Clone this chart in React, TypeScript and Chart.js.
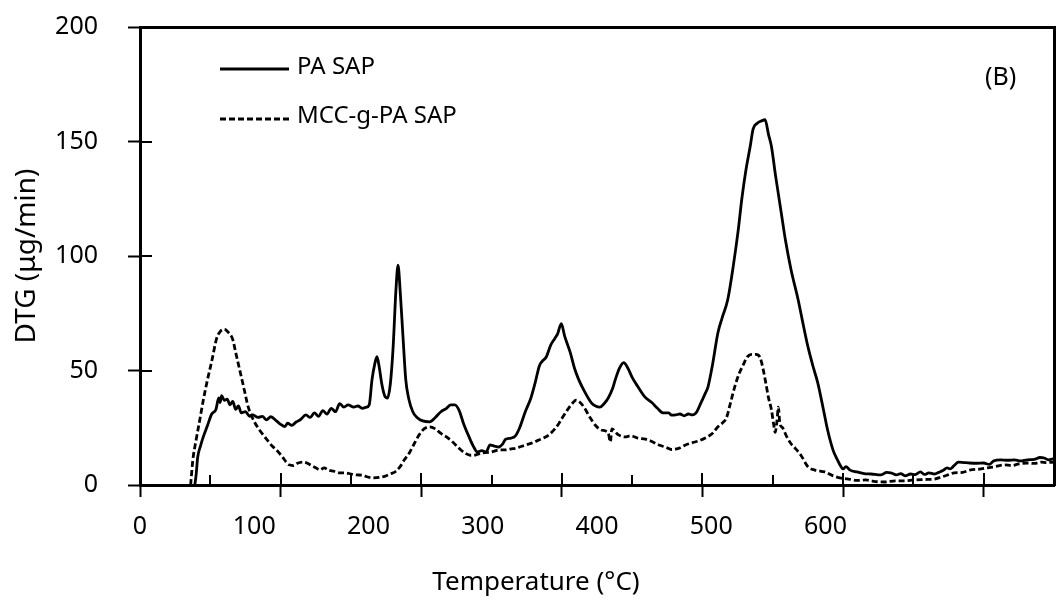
import React, { useEffect, useRef } from 'react';
import { Chart, registerables } from 'chart.js';

Chart.register(...registerables);

// ---- Data ----
const paTemp = [
  39, 40, 41, 43, 45, 48, 51, 54, 56, 57, 58, 60, 62, 64, 66, 68, 70, 72, 75, 78,
  80, 84, 87, 90, 93, 97, 100, 103, 105, 108, 111, 114, 118, 121, 124, 127, 130, 133, 136, 139,
  142, 145, 148, 152, 155, 158, 161, 163, 165, 167, 168.5, 170, 172, 174, 176, 178, 180, 182, 183.5, 185,
  187, 189, 191, 194, 197, 201, 206, 210, 214, 218, 221, 224, 227, 230, 234, 237, 240, 243, 246, 249,
  252, 255, 258, 260, 264, 267, 270, 274, 278, 281, 284, 286, 289, 292, 295, 297, 299.6, 302, 306, 309,
  312, 316, 321, 324, 327, 330, 333, 336, 338, 341, 344, 347, 350, 354, 359, 364, 368, 372, 376, 378,
  381, 384, 387, 390, 393, 396, 399, 402, 404, 407, 411, 414, 418, 422, 425.5, 428, 431, 434, 436, 439,
  442, 444.5, 447, 449, 452, 456, 459, 463, 468, 471, 475, 479, 482, 486, 489, 493, 496, 498, 500, 502,
  505, 510, 515, 520, 527, 531, 534, 538, 541, 544, 548, 551, 555, 558, 561, 565, 568, 571, 574, 576,
  579, 582, 586, 590, 595, 600, 604, 607, 612, 617, 622, 626, 631, 636, 640, 643, 646, 650,
];
const paDtg = [
  0, 5, 12, 17, 21, 26, 31, 33, 38, 36, 39, 37, 37.5, 35, 36.5, 33, 34.5, 31.5, 32, 30,
  30.6, 29.5, 30, 28.5, 29.8, 28, 26.5, 25.5, 27, 26, 27.5, 28.5, 30.6, 29.5, 31.5, 30, 32.5, 31, 33.5, 32,
  35.5, 34, 35, 34, 34.5, 33.5, 34, 35, 46, 53, 56, 52, 44, 39, 38, 44, 60, 85, 96, 85,
  65, 46, 38, 32, 29.5, 28, 27.6, 29.5, 32, 33.5, 35, 35, 32.5, 27, 21, 17, 14.4, 15, 14.4, 17.5,
  17, 16.6, 18, 20, 20.5, 21.5, 25, 32, 38, 44.6, 52, 54, 56, 61, 64, 66, 70.5, 65, 57.8, 51,
  46, 41, 35.9, 34.5, 34, 35.5, 38, 42, 46, 51, 53.4, 51, 47, 43, 38.5, 36, 33.5, 31.5, 31.5, 30.5,
  30.6, 31, 30.2, 31, 30.6, 32, 36, 40, 43, 52, 66.5, 73, 81, 96, 111.6, 125, 137.9, 148, 155.4, 158,
  159, 159.5, 153, 148, 135, 119, 107, 94, 81, 72, 60.4, 51, 44.6, 33, 24, 15, 11, 8.5, 7, 8,
  6.5, 5.7, 5, 4.8, 4.4, 5.5, 5.3, 4.4, 5, 4, 4.8, 4.5, 5.7, 4.6, 5.3, 4.8, 5.5, 6.3, 7.5, 7,
  8.5, 10, 9.8, 9.6, 9.5, 9.6, 9, 10.5, 11, 10.8, 11, 10.5, 11, 11.2, 12, 11.8, 11, 11.5,
];

const mccTemp = [
  36, 37.6, 40, 42.5, 45, 48, 51, 54.5, 57, 60, 63, 66, 68, 71, 74, 77, 81, 85, 90, 94,
  97, 101, 104, 106, 109, 112, 116, 119, 122, 125, 128, 131, 134, 138, 142, 146, 150, 154, 158, 162,
  165, 170, 174, 178, 182, 185, 188, 191.5, 195, 198.6, 202, 206, 210, 214, 218, 222, 227, 231, 235, 239,
  243, 248, 252, 255, 260, 264, 267, 271, 275, 279, 283, 287, 291, 295, 298, 301, 305, 308, 310, 313,
  316, 320, 324, 328, 333, 334.5, 335.6, 340, 345, 349, 354, 359.5, 364, 369, 374, 378, 383, 388, 393, 397,
  402, 407, 411, 414, 417, 420, 423, 426, 429, 432, 435, 438, 441, 443, 445.5, 447, 449, 450.5, 451.7, 453,
  454, 455, 457, 460, 463, 466, 470, 475, 480, 487, 493, 498.6, 505, 510, 516, 520, 525, 530, 537, 544,
  550, 558, 565, 570, 575, 579, 585, 590, 598, 603, 608, 615, 620, 625, 631, 636, 641, 645, 650,
];
const mccDtg = [
  0, 11, 20, 28.4, 37, 46, 54, 64, 67, 68, 66.5, 63.5, 58, 50, 42, 34, 28, 24, 20, 17,
  15.3, 12.5, 10, 8.8, 8.5, 9.5, 10, 9.5, 8.5, 7.5, 6.6, 7.5, 6.5, 6, 5.3, 5.3, 4.8, 4.4, 4.3, 3.5,
  3.1, 3.3, 3.8, 4.8, 6, 8, 11, 14, 18, 22, 24.5, 25.4, 24.5, 22.5, 21, 19, 16, 14, 13, 13.2,
  14, 14.2, 14.8, 15.3, 15.3, 15.8, 16, 16.8, 17.6, 18.4, 19.5, 20.5, 22, 24.5, 27, 30, 33.7, 36, 37, 36,
  33.7, 29.5, 26, 24, 22.7, 18.8, 24.5, 22, 21, 21.5, 20.5, 20, 19, 17.5, 16.5, 15.5, 16, 17.5, 18.5, 19.2,
  20.5, 22.5, 25.4, 27, 29.3, 36, 43, 48.5, 52.5, 56, 57, 57, 55.6, 51, 43, 38, 33, 27, 23, 28,
  34, 27, 25, 21, 18, 16, 13, 8, 6.5, 5.7, 4, 3, 2.5, 2, 2.2, 1.8, 1.4, 1.3, 1.8, 1.8,
  2.2, 2.4, 2.6, 3.5, 4.5, 5.3, 5.5, 6.5, 7, 7.5, 8, 8.8, 8.5, 9.2, 9.6, 9.4, 10, 9.8, 10,
];

const seriesNames = ['PA SAP', 'MCC-g-PA SAP'];
const xMajorTicks = [0, 100, 200, 300, 400, 500, 600];
const xTickLabels = ['0', '100', '200', '300', '400', '500', '600', '', ''];
const xTitle = 'Temperature (°C)';
const yTitle = 'DTG (μg/min)';
const panelLabel = '(B)';

const FONT = '"Noto Sans", sans-serif';

const noPad = (s: any) => {
  s.paddingLeft = 0;
  s.paddingRight = 0;
  s.paddingTop = 0;
  s.paddingBottom = 0;
};

const decorPlugin = {
  id: 'decor',
  afterDraw(chart: any) {
    const { ctx, chartArea: a, scales } = chart;
    const x = scales.x;
    const y = scales.y;
    const line = (x1: number, y1: number, x2: number, y2: number) => {
      ctx.beginPath();
      ctx.moveTo(x1, y1);
      ctx.lineTo(x2, y2);
      ctx.stroke();
    };
    ctx.save();
    ctx.strokeStyle = '#000';
    ctx.lineWidth = 2;
    // inward parts of major x ticks, and minor x ticks
    for (const v of xMajorTicks) {
      const px = Math.round(x.getPixelForValue(v));
      line(px, a.bottom, px, a.bottom - 12);
    }
    for (let v = 50; v < 650; v += 100) {
      const px = Math.round(x.getPixelForValue(v));
      line(px, a.bottom, px, a.bottom - 10);
    }
    // inward parts of y ticks
    for (let v = 50; v < 200; v += 50) {
      const py = Math.round(y.getPixelForValue(v));
      line(a.left, py, a.left + 12, py);
    }
    // legend
    ctx.lineWidth = 2.8;
    line(220, 69, 289, 69);
    ctx.setLineDash([6, 3]);
    line(220, 119, 289, 119);
    ctx.setLineDash([]);
    ctx.fillStyle = '#000';
    ctx.font = '24px ' + FONT;
    ctx.textAlign = 'left';
    ctx.textBaseline = 'alphabetic';
    ctx.fillText(seriesNames[0], 297, 74);
    ctx.fillText(seriesNames[1], 297, 123);
    // panel label
    ctx.font = '25px ' + FONT;
    ctx.fillText(panelLabel, 985, 85);
    // x title
    ctx.font = '26px ' + FONT;
    ctx.textAlign = 'center';
    ctx.fillText(xTitle, 536, 590);
    ctx.restore();
  },
};

export default function App() {
  const ref = useRef<HTMLCanvasElement | null>(null);

  useEffect(() => {
    if (!ref.current) return;
    Chart.defaults.font.family = FONT;
    Chart.defaults.color = '#000';
    const chart = new Chart(ref.current, {
      type: 'line',
      data: {
        datasets: [
          {
            label: seriesNames[0],
            data: paTemp.map((t, i) => ({ x: t, y: paDtg[i] })),
            borderColor: '#000',
            borderWidth: 2.8,
            pointRadius: 0,
            cubicInterpolationMode: 'monotone',
            fill: false,
          },
          {
            label: seriesNames[1],
            data: mccTemp.map((t, i) => ({ x: t, y: mccDtg[i] })),
            borderColor: '#000',
            borderWidth: 2.8,
            borderDash: [6, 3],
            pointRadius: 0,
            cubicInterpolationMode: 'monotone',
            fill: false,
          },
        ],
      },
      options: {
        animation: false,
        responsive: false,
        layout: { padding: 0 },
        plugins: { legend: { display: false }, tooltip: { enabled: false } },
        scales: {
          x: {
            type: 'linear',
            position: 'bottom',
            weight: 0,
            min: 0,
            max: 650,
            ticks: { display: false, stepSize: 100, includeBounds: false },
            grid: { display: true, drawOnChartArea: false, drawTicks: true, tickLength: 12, tickWidth: 2, tickColor: '#000' },
            border: { display: true, color: '#000', width: 3 },
            afterFit: (s: any) => { s.height = 12; noPad(s); },
          },
          x2: {
            type: 'category',
            labels: xTickLabels,
            position: 'bottom',
            weight: 1,
            offset: false,
            ticks: {
              autoSkip: false,
              maxRotation: 0,
              minRotation: 0,
              padding: 15,
              color: '#000',
              font: { size: 25 },
            },
            grid: { display: false, drawTicks: false, offset: false },
            border: { display: false },
            afterFit: (s: any) => { s.height = 105; noPad(s); },
          },
          xTop: {
            type: 'linear',
            position: 'top',
            min: 0,
            max: 650,
            ticks: { display: false },
            grid: { display: false, drawTicks: false, tickLength: 0 },
            border: { display: true, color: '#000', width: 3 },
            afterFit: (s: any) => { s.height = 27; noPad(s); },
          },
          y: {
            type: 'linear',
            position: 'left',
            min: 0,
            max: 200,
            ticks: { stepSize: 50, padding: 30, color: '#000', font: { size: 25 } },
            grid: { display: true, drawOnChartArea: false, drawTicks: true, tickLength: 12, tickWidth: 2, tickColor: '#000' },
            border: { display: true, color: '#000', width: 3 },
            title: { display: true, text: yTitle, color: '#000', font: { size: 28 }, padding: { top: 10, bottom: 0 } },
            afterFit: (s: any) => { s.width = 140; noPad(s); },
          },
          yRight: {
            type: 'linear',
            position: 'right',
            min: 0,
            max: 200,
            ticks: { display: false },
            grid: { display: false, drawTicks: false, tickLength: 0 },
            border: { display: true, color: '#000', width: 3 },
            afterFit: (s: any) => { s.width = 2; noPad(s); },
          },
        },
      } as any,
      plugins: [decorPlugin],
    });
    return () => chart.destroy();
  }, []);

  return (
    <div style={{ position: 'absolute', left: 0, top: 0, width: 1056, height: 602, background: '#fff' }}>
      <canvas ref={ref} width={1056} height={602} style={{ display: 'block' }} />
    </div>
  );
}
